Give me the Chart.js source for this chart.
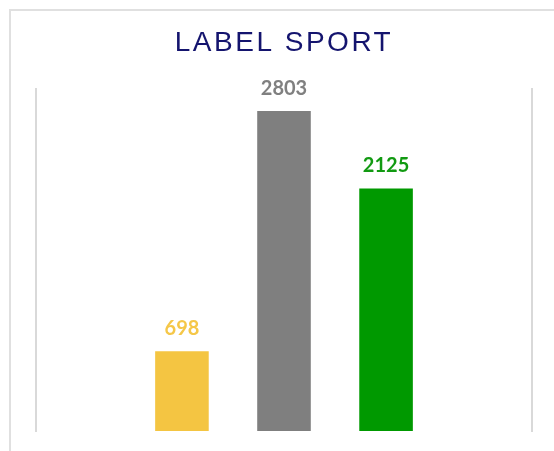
<!DOCTYPE html>
<html>
<head>
<meta charset="utf-8">
<script src="https://cdn.jsdelivr.net/npm/chart.js@4"></script>
<style>
  body { margin: 0; background: #fff; }
  #wrap { position: relative; width: 554px; height: 451px; overflow: hidden; }
  #frame {
    position: absolute; left: 9px; top: 9px; width: 600px; height: 500px;
    border-top: 2px solid #e0e0e0; border-left: 2px solid #e0e0e0;
  }
  #myChart { position: absolute; left: 0; top: 0; }
</style>
</head>
<body>
<div id="wrap">
  <div id="frame"></div>
  <canvas id="myChart" width="554" height="451"></canvas>
</div>
<script>
// ----- data ----- //
var titleText = "LABEL SPORT";
var categories = ["Cat 1", "Cat 2", "Cat 3"];
var positions = [1, 2, 3];
var values = [698, 2803, 2125];
var barColors = ["#F4C542", "#7F7F7F", "#009900"];
var labelColors = ["#F5C748", "#808080", "#129A12"];

// letter spaced title, reset before bars/labels
const spacedTitle = {
  id: "spacedTitle",
  beforeDraw(chart) {
    chart.ctx.letterSpacing = "2.5px";
  },
  beforeDatasetsDraw(chart) {
    chart.ctx.letterSpacing = "0px";
  },
};

const valueLabels = {
  id: "valueLabels",
  afterDatasetsDraw(chart) {
    const ctx = chart.ctx;
    const meta = chart.getDatasetMeta(0);
    ctx.save();
    ctx.font = "bold 20px Lato";
    ctx.textAlign = "center";
    ctx.textBaseline = "alphabetic";
    meta.data.forEach((bar, i) => {
      ctx.fillStyle = labelColors[i];
      ctx.fillText(values[i], bar.x, bar.y - 16);
    });
    ctx.restore();
  },
};

function displayBars() {
  const ctx = document.getElementById("myChart");
  const points = positions.map((p, i) => ({ x: p, y: values[i] }));

  new Chart(ctx, {
    type: "bar",
    data: {
      labels: categories,
      datasets: [
        {
          label: titleText,
          data: points,
          backgroundColor: barColors,
          borderWidth: 0,
          categoryPercentage: 1,
          barPercentage: 0.525,
        },
      ],
    },
    plugins: [spacedTitle, valueLabels],
    options: {
      responsive: false,
      animation: false,
      layout: { padding: { left: 36, right: 22, top: 0, bottom: 20 } },
      plugins: {
        legend: { display: false },
        tooltip: { enabled: false },
        title: {
          display: true,
          text: titleText,
          color: "#14146E",
          font: { family: "Liberation Sans", size: 28, weight: "normal" },
          padding: { top: 26, bottom: 29 },
        },
      },
      scales: {
        x: {
          type: "linear",
          offset: false,
          min: -0.43,
          max: 4.43,
          afterBuildTicks: (axis) => {
            axis.ticks = positions.map((p) => ({ value: p }));
          },
          grid: { display: false, drawTicks: false, offset: false },
          border: { display: false },
          ticks: { display: false },
        },
        y: {
          position: "left",
          min: 0,
          max: 3000,
          grid: { display: false, drawTicks: false },
          border: { display: true, color: "#D9D9D9", width: 2 },
          ticks: { display: false },
        },
        y2: {
          position: "right",
          min: 0,
          max: 3000,
          grid: { display: false, drawTicks: false },
          border: { display: true, color: "#D9D9D9", width: 2 },
          ticks: { display: false },
        },
      },
    },
  });
}

displayBars();
</script>
</body>
</html>
